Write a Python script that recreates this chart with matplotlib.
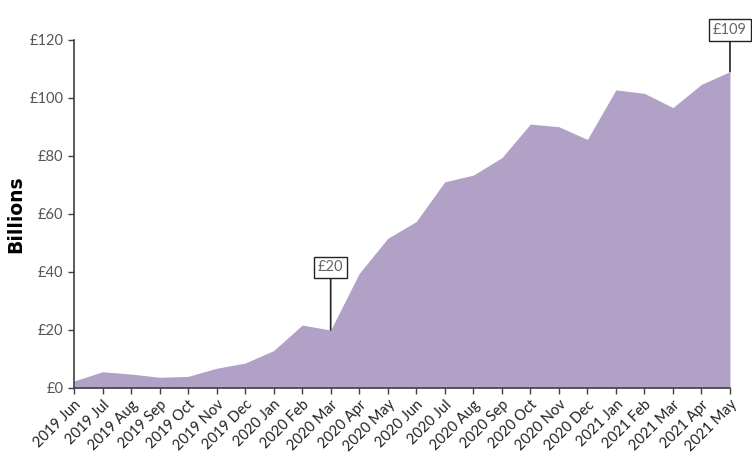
import matplotlib
matplotlib.use("Agg")
import matplotlib.pyplot as plt
import numpy as np

months = ["2019 Jun", "2019 Jul", "2019 Aug", "2019 Sep", "2019 Oct", "2019 Nov",
          "2019 Dec", "2020 Jan", "2020 Feb", "2020 Mar", "2020 Apr", "2020 May",
          "2020 Jun", "2020 Jul", "2020 Aug", "2020 Sep", "2020 Oct", "2020 Nov",
          "2020 Dec", "2021 Jan", "2021 Feb", "2021 Mar", "2021 Apr", "2021 May"]
values = [2.4, 5.6, 4.8, 3.7, 4.0, 6.8, 8.6, 12.9, 21.7, 20.0, 39.5, 51.6,
          57.4, 71.1, 73.4, 79.4, 91.0, 90.1, 85.7, 102.8, 101.6, 96.7, 104.7, 109.1]
yticks = [0, 20, 40, 60, 80, 100, 120]
ytick_labels = ["£0", "£20", "£40", "£60", "£80", "£100", "£120"]
callouts = [(9, "£20"), (23, "£109")]

plt.rcParams['font.family'] = ['Lato', 'DejaVu Sans']

fig = plt.figure(figsize=(7.52, 4.54), dpi=100)
ax = fig.add_axes([0.0984, 0.1454, 0.8723, 0.7665])
x = np.arange(len(months))
ax.fill_between(x, values, 0, color="#B1A1C7", linewidth=0)
ax.set_xlim(0, len(months) - 1)
ax.set_ylim(0, 120)
ax.set_xticks(x)
ax.set_xticklabels(months, rotation=45, ha="right", rotation_mode="anchor",
                   fontsize=10.5, color="#222222")
ax.set_yticks(yticks)
ax.set_yticklabels(ytick_labels, fontsize=10.5, color="#555555")
for s in ["top", "right"]:
    ax.spines[s].set_visible(False)
for s in ["left", "bottom"]:
    ax.spines[s].set_color("#404040")
    ax.spines[s].set_linewidth(1.2)
ax.tick_params(axis="both", direction="out", length=4, width=1, color="#404040")
ax.tick_params(axis="x", pad=3)
ax.set_ylabel("Billions", fontsize=13.5, fontweight="bold", family="DejaVu Sans")
ax.yaxis.set_label_coords(-0.075, 0.5)

offsets = {9: (0, 40), 23: (0, 25)}
for idx, label in callouts:
    ax.annotate(label, xy=(idx, values[idx]), xytext=offsets[idx], textcoords="offset points",
                ha="center", va="bottom", fontsize=10.5, color="#666666",
                bbox=dict(boxstyle="square,pad=0.25", fc="white", ec="#222222", lw=1),
                arrowprops=dict(arrowstyle="-", color="#222222", lw=1.2, shrinkA=0, shrinkB=0),
                annotation_clip=False)

fig.savefig("out.png", dpi=100)
